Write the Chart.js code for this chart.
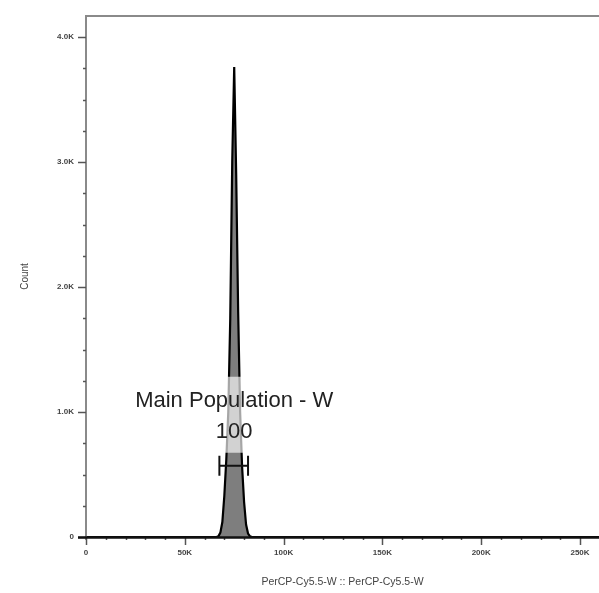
<!DOCTYPE html>
<html>
<head>
<meta charset="utf-8">
<script src="https://cdn.jsdelivr.net/npm/chart.js@4.4.1/dist/chart.umd.min.js"></script>
<style>
  body { margin: 0; background: #fff; }
  #wrap { width: 599px; height: 593px; }
</style>
</head>
<body>
<div id="wrap"><canvas id="histo" width="599" height="593"></canvas></div>
<script>
// Histogram bins (channel value) and counts
const binValues = [0, 66000, 67000, 68000, 69000, 70000, 71000, 72000, 73000, 74000, 75000,
  76000, 77000, 78000, 79000, 80000, 81000, 82000, 83000, 84000, 259600];
const binCounts = [0, 0, 5, 35, 120, 330, 620, 1000, 1750, 3000, 3760,
  2900, 1800, 1000, 560, 280, 100, 28, 5, 0, 0];

// Axis ticks
const xTickValues = [0, 50000, 100000, 150000, 200000, 250000];
const xTickLabels = ["0", "50K", "100K", "150K", "200K", "250K"];
const yTickValues = [0, 1000, 2000, 3000, 4000];
const yTickLabels = ["0", "1.0K", "2.0K", "3.0K", "4.0K"];

// Gate
const gateName = "Main Population - W";
const gateRange = [67500, 82000];
const gatePercent = "100";

const ctx = document.getElementById("histo").getContext("2d");

// Draws axis lines, minor/major tick marks, the gate and its label
const flowPlugin = {
  id: "flowPlugin",
  afterDatasetsDraw(chart) {
    const c = chart.ctx;
    const x = chart.scales.x;
    const y = chart.scales.y;
    const area = chart.chartArea;
    c.save();

    // frame
    c.strokeStyle = "#8a8a8a";
    c.lineWidth = 2;
    c.beginPath();
    c.moveTo(area.left, area.bottom + 3);
    c.lineTo(area.left, area.top);
    c.lineTo(area.right, area.top);
    c.stroke();

    // y tick marks
    c.strokeStyle = "#555";
    c.lineWidth = 1.5;
    for (let v = 0; v <= 4000; v += 250) {
      const py = Math.round(y.getPixelForValue(v)) + 0.5;
      const len = v % 1000 === 0 ? 8 : 3;
      c.beginPath();
      c.moveTo(area.left - len, py);
      c.lineTo(area.left, py);
      c.stroke();
    }
    // x tick marks
    for (let v = 0; v <= 250000; v += 10000) {
      const px = Math.round(x.getPixelForValue(v)) + 0.5;
      const len = v % 50000 === 0 ? 8 : 3;
      c.beginPath();
      c.moveTo(px, area.bottom);
      c.lineTo(px, area.bottom + len);
      c.stroke();
    }

    // bottom axis
    c.strokeStyle = "#111";
    c.lineWidth = 2.5;
    c.beginPath();
    c.moveTo(area.left - 8, area.bottom + 0.5);
    c.lineTo(area.right, area.bottom + 0.5);
    c.stroke();

    // gate label with translucent box
    const gx1 = x.getPixelForValue(gateRange[0]);
    const gx2 = x.getPixelForValue(gateRange[1]);
    const gy = y.getPixelForValue(570);
    const cx = x.getPixelForValue(75000);
    c.font = "22px 'Liberation Sans', Arial, sans-serif";
    const tw = c.measureText(gateName).width;
    c.fillStyle = "rgba(255,255,255,0.65)";
    c.fillRect(cx - tw / 2 - 2, gy - 89, tw + 4, 76);
    c.fillStyle = "#222";
    c.textAlign = "center";
    c.textBaseline = "middle";
    c.fillText(gateName, cx, gy - 65);
    c.fillText(gatePercent, cx, gy - 34);

    // gate bracket
    c.strokeStyle = "#111";
    c.lineWidth = 2;
    c.beginPath();
    c.moveTo(gx1, gy);
    c.lineTo(gx2, gy);
    c.moveTo(gx1, gy - 10);
    c.lineTo(gx1, gy + 10);
    c.moveTo(gx2, gy - 10);
    c.lineTo(gx2, gy + 10);
    c.stroke();

    c.restore();
  }
};

const tickFont = { family: "'Liberation Sans', Arial, sans-serif", size: 8, weight: "bold" };

new Chart(ctx, {
  type: "line",
  data: {
    datasets: [
      {
        data: binValues.map((v, i) => ({ x: v, y: binCounts[i] })),
        borderColor: "#000",
        borderWidth: 2.2,
        backgroundColor: "#7e7e7e",
        fill: "origin",
        pointRadius: 0,
        tension: 0,
      },
    ],
  },
  options: {
    responsive: false,
    animation: false,
    layout: { padding: { top: 16, right: 0, left: 0, bottom: 0 } },
    plugins: { legend: { display: false }, tooltip: { enabled: false } },
    scales: {
      x: {
        type: "linear",
        min: 0,
        max: 259600,
        grid: { display: false, drawTicks: false },
        border: { display: false },
        afterBuildTicks: (s) => { s.ticks = xTickValues.map((v) => ({ value: v })); },
        afterFit: (s) => { s.height = 56; s.paddingLeft = 0; s.paddingRight = 0; },
        ticks: {
          autoSkip: false,
          maxRotation: 0,
          padding: 11,
          color: "#444",
          font: tickFont,
          callback: (v) => xTickLabels[xTickValues.indexOf(v)],
        },
        title: {
          display: true,
          text: "PerCP-Cy5.5-W :: PerCP-Cy5.5-W",
          color: "#444",
          font: { family: "'Liberation Sans', Arial, sans-serif", size: 10.5 },
          padding: { top: 0, bottom: 5 },
        },
      },
      y: {
        min: 0,
        max: 4168,
        grid: { display: false, drawTicks: false },
        border: { display: false },
        afterBuildTicks: (s) => { s.ticks = yTickValues.map((v) => ({ value: v })); },
        afterFit: (s) => { s.width = 86; s.paddingTop = 0; s.paddingBottom = 0; },
        ticks: {
          autoSkip: false,
          padding: 12,
          color: "#444",
          font: tickFont,
          callback: (v) => yTickLabels[yTickValues.indexOf(v)],
        },
        title: {
          display: true,
          text: "Count",
          color: "#444",
          font: { family: "'Liberation Sans', Arial, sans-serif", size: 10 },
          padding: { top: 19, bottom: 0 },
        },
      },
    },
  },
  plugins: [flowPlugin],
});
</script>
</body>
</html>
